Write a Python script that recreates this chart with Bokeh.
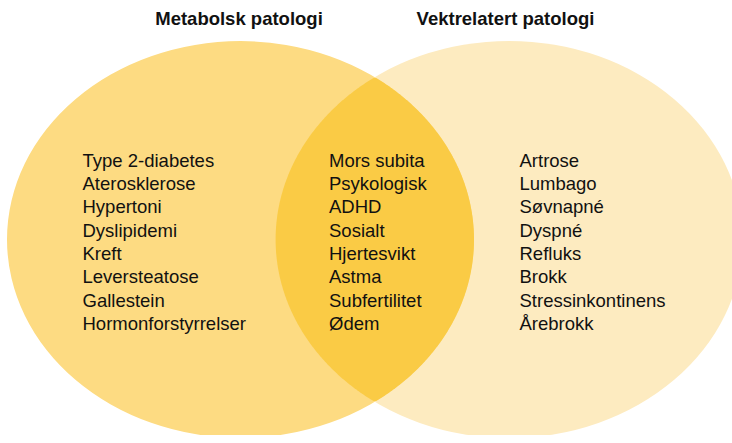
import numpy as np
from bokeh.plotting import figure
from bokeh.models import Range1d
from bokeh.core.properties import value
from bokeh.embed import file_html
from bokeh.resources import INLINE

# ---- data ----
titles = ["Metabolsk patologi", "Vektrelatert patologi"]
metabolsk = ["Type 2-diabetes", "Aterosklerose", "Hypertoni", "Dyslipidemi",
             "Kreft", "Leversteatose", "Gallestein", "Hormonforstyrrelser"]
begge = ["Mors subita", "Psykologisk", "ADHD", "Sosialt", "Hjertesvikt",
         "Astma", "Subfertilitet", "Ødem"]
vektrelatert = ["Artrose", "Lumbago", "Søvnapné", "Dyspné", "Refluks",
                "Brokk", "Stressinkontinens", "Årebrokk"]

# ---- layout / style ----
W, H = 732, 435
FONT = value("Liberation Sans")
C_LEFT = "#FDDB82"
C_RIGHT = "#FDEBC0"
C_LENS = "#FACB45"

cxL, cxR, cy = 240.0, 508.6, 247.0
rx, ry = 233.5, 198.5

p = figure(width=W, height=H, output_backend="svg", toolbar_location=None,
           x_range=Range1d(0, W), y_range=Range1d(8 + H, 8),
           min_border=0, outline_line_color=None)
p.axis.visible = False
p.grid.visible = False
p.background_fill_color = "white"
p.border_fill_color = "white"

p.ellipse(x=[cxR], y=[cy], width=[2 * rx], height=[2 * ry],
          fill_color=C_RIGHT, line_color=None)
p.ellipse(x=[cxL], y=[cy], width=[2 * rx], height=[2 * ry],
          fill_color=C_LEFT, line_color=None)

# lens = intersection of the two ellipses
t = np.linspace(0, 2 * np.pi, 721)
lx = cxL + rx * np.cos(t); ly = cy + ry * np.sin(t)
rxp = cxR + rx * np.cos(t); ryp = cy + ry * np.sin(t)
inR = ((lx - cxR) / rx) ** 2 + ((ly - cy) / ry) ** 2 <= 1
inL = ((rxp - cxL) / rx) ** 2 + ((ryp - cy) / ry) ** 2 <= 1
mx = (cxL + cxR) / 2
px_all = np.concatenate([lx[inR], rxp[inL]])
py_all = np.concatenate([ly[inR], ryp[inL]])
order = np.argsort(np.arctan2(py_all - cy, px_all - mx))
p.patch(px_all[order], py_all[order], fill_color=C_LENS, line_color=None)

# titles
p.text(x=[238.5, 505], y=[26, 26], text=titles, text_font=FONT,
       text_font_size="18.5px", text_font_style="bold", text_color="#111111",
       text_align="center", text_baseline="alphabetic")

# columns
y0, dy = 167.7, 23.3
for xcol, items in [(82, metabolsk), (328.5, begge), (519, vektrelatert)]:
    ys = [y0 + i * dy for i in range(len(items))]
    p.text(x=[xcol] * len(items), y=ys, text=items, text_font=FONT,
           text_font_size="18.5px", text_color="#111111",
           text_align="left", text_baseline="alphabetic")

open("out.html", "w").write(file_html(p, INLINE))
